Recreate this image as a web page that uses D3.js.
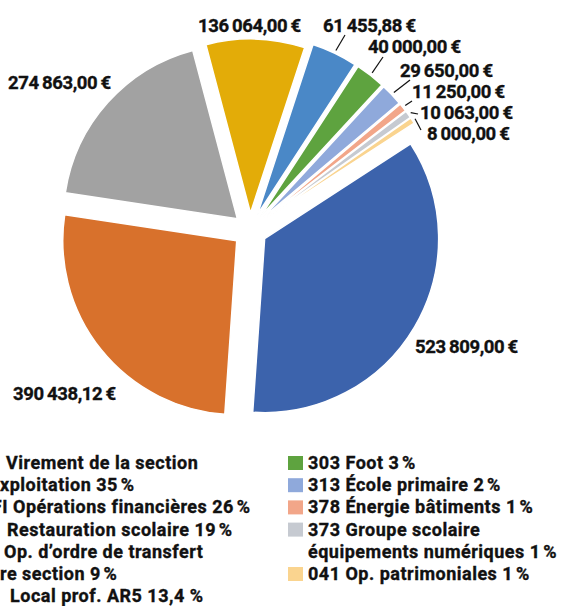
<!DOCTYPE html>
<html>
<head>
<meta charset="utf-8">
<script src="https://cdn.jsdelivr.net/npm/d3@7"></script>
<style>
    body { margin: 0; background: #fff; }
    svg { display: block; font-family: Roboto, "DejaVu Sans", sans-serif; font-weight: 700; }
    svg text { fill: #111; stroke: #111; stroke-width: 0.35px; }
</style>
</head>
<body>
<div id="chart"></div>
<script>
// amounts in euros, clockwise starting with the big blue slice
const amounts = [523809, 390438.12, 274863, 136064, 61455.88, 40000, 29650, 11250, 10063, 8000];
const sliceColors = ["#3c63ac", "#d8712c", "#a2a2a2", "#e3ac08", "#4a88c7", "#5ea33f", "#8fa9db", "#f2a689", "#c6cad1", "#fad48f"];
const legendLabels = [
    "021 Virement de la section\nd’exploitation 35\u202F%",
    "OPFI Opérations financières 26\u202F%",
    "371 Restauration scolaire 19\u202F%",
    "040 Op. d’ordre de transfert\nentre section 9\u202F%",
    "372 Local prof. AR5 13,4 %",
    "303 Foot 3\u202F%",
    "313 École primaire 2\u202F%",
    "378 Énergie bâtiments 1\u202F%",
    "373 Groupe scolaire\néquipements numériques 1\u202F%",
    "041 Op. patrimoniales 1\u202F%"
];
const legendColumns = [[0, 1, 2, 3, 4], [5, 6, 7, 8, 9]];

// where each value label sits (lx/ly = text end of the leader line)
const labelLayout = [
    {x: 415, y: 353}, {x: 13, y: 400}, {x: 8, y: 89}, {x: 198, y: 32},
    {x: 323, y: 32, lx: 345, ly: 35}, {x: 368, y: 53, lx: 383, ly: 57},
    {x: 400, y: 77, lx: 410, ly: 80}, {x: 412, y: 98, lx: 412, ly: 101},
    {x: 420, y: 119, lx: 418, ly: 114}, {x: 427, y: 140, lx: 421, ly: 130}
];
// the left legend column runs off the page: [visible part, its x, end x of the code before it]
const leftVisible = [["Virement", 6, -1], ["xploitation", 0], ["Opérations", 13, 8], ["Restauration", 7, -1],
    ["Op.", 4, -2], ["re section", 0], ["Local", 10, -1]];

const width = 562, height = 606;
const cx = 250, cy = 230, radius = 174, explode = 17;

const locale = d3.formatLocale({decimal: ",", thousands: "\u2009", grouping: [3], currency: ["", "\u2009€"]});
const fmt = locale.format("$,.2f");

const svg = d3.select("#chart").append("svg")
    .attr("width", width)
    .attr("height", height);

const pie = d3.pie().sort(null).startAngle(57 * Math.PI / 180).endAngle(417 * Math.PI / 180);
const arcs = pie(amounts);
const total = d3.sum(amounts);
const outerR = d => (d.value / total < 0.05 ? radius + 5 : radius);
const arc = d3.arc().innerRadius(0).outerRadius(outerR);

const midAngle = d => (d.startAngle + d.endAngle) / 2;
const offset = d => [cx + explode * Math.sin(midAngle(d)), cy - explode * Math.cos(midAngle(d))];

const g = svg.append("g");
g.selectAll("path.slice")
    .data(arcs)
    .enter().append("path")
    .attr("class", "slice")
    .attr("transform", d => `translate(${offset(d)})`)
    .attr("d", arc)
    .style("fill", (d, i) => sliceColors[i])
    .style("stroke", "#fff")
    .style("stroke-width", 1.5);

// leader lines
g.selectAll("line.leader")
    .data(arcs.filter((d, i) => labelLayout[i].lx !== undefined))
    .enter().append("line")
    .attr("class", "leader")
    .attr("x1", d => offset(d)[0] + (outerR(d) + 3) * Math.sin(midAngle(d)))
    .attr("y1", d => offset(d)[1] - (outerR(d) + 3) * Math.cos(midAngle(d)))
    .attr("x2", d => labelLayout[d.index].lx)
    .attr("y2", d => labelLayout[d.index].ly)
    .style("stroke", "#111")
    .style("stroke-width", 1.2);

g.selectAll("text.value")
    .data(arcs)
    .enter().append("text")
    .attr("class", "value")
    .attr("x", d => labelLayout[d.index].x)
    .attr("y", d => labelLayout[d.index].y)
    .style("font-size", "18.5px")
    .style("letter-spacing", "-0.4px")
    .text(d => fmt(d.value));

// legend
const colX = [-24, 308];
const rowY0 = 469, rowStep = 22.2;
legendColumns.forEach((items, c) => {
    let row = 0;
    items.forEach(i => {
        const lines = legendLabels[i].split("\n");
        svg.append("rect")
            .attr("x", colX[c] - 20)
            .attr("y", rowY0 + row * rowStep - 13)
            .attr("width", 15)
            .attr("height", 14)
            .style("fill", sliceColors[i]);
        lines.forEach((line, li) => {
            const y = rowY0 + row * rowStep;
            const addText = (x, s) => svg.append("text")
                .attr("x", x)
                .attr("y", y)
                .style("font-size", "18px")
                .style("letter-spacing", "0.5px")
                .text(s);
            if (c === 0) {
                const [part, vx, codeEnd] = leftVisible[row];
                const k = line.indexOf(part);
                if (li === 0) {
                    // item code drawn on its own, ending left of the label
                    addText(codeEnd, line.slice(0, k).trim()).attr("text-anchor", "end");
                    addText(vx, line.slice(k));
                } else {
                    const t = addText(0, line);
                    t.attr("x", vx - (k > 0 ? t.node().getSubStringLength(0, k) : 0));
                }
            } else {
                addText(colX[c], line);
            }
            row++;
        });
    });
});
</script>
</body>
</html>
